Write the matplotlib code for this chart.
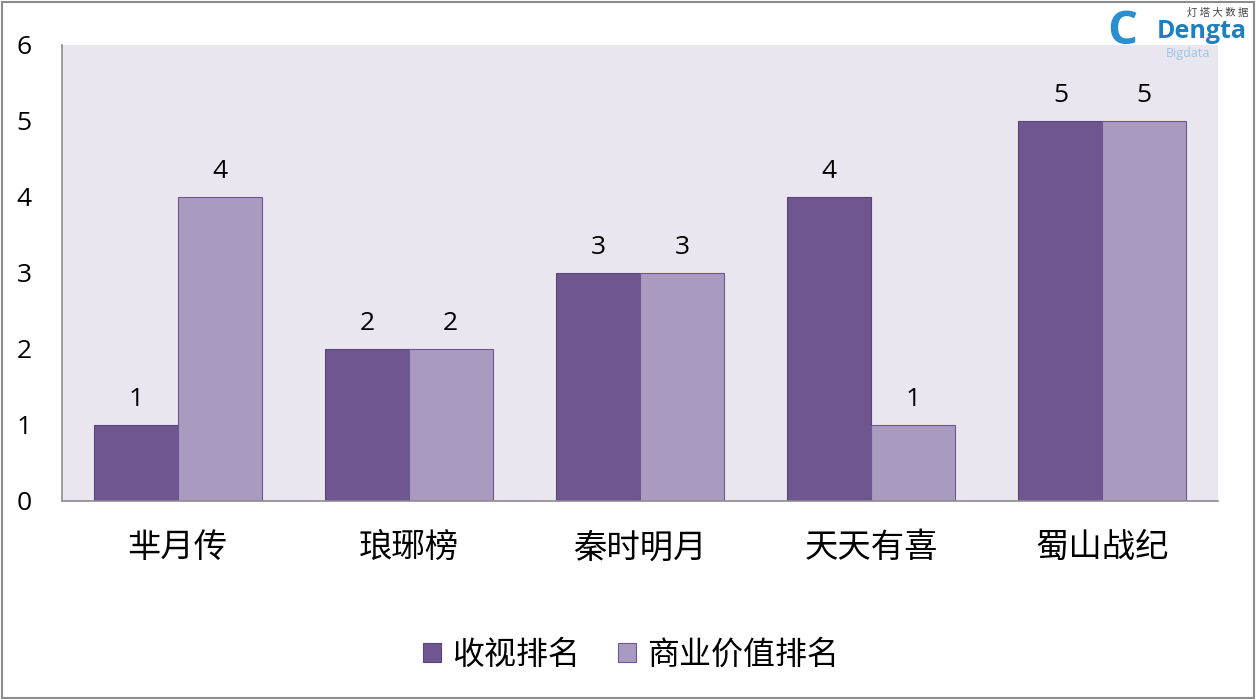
import matplotlib
matplotlib.use("Agg")
import matplotlib.pyplot as plt
import numpy as np
from matplotlib.patches import Rectangle

plt.rcParams['font.family'] = ['Open Sans', 'Noto Sans CJK SC', 'DejaVu Sans']

categories = ['芈月传', '琅琊榜', '秦时明月', '天天有喜', '蜀山战纪']
series_names = ['收视排名', '商业价值排名']
ratings_rank = [1, 2, 3, 4, 5]
commercial_rank = [4, 2, 3, 1, 5]
yticks = [0, 1, 2, 3, 4, 5, 6]

dark = '#6F5691'
light = '#A99BC0'
cjk = ['Noto Sans CJK SC', 'DejaVu Sans']

fig = plt.figure(figsize=(12.56, 7.0), dpi=100)
fig.patch.set_facecolor('white')
ax = fig.add_axes([62/1256, 1-501/700, (1218-62)/1256, (501-45)/700])
ax.set_facecolor('#E9E6EF')

x = np.arange(len(categories))
w = 0.363
b1 = ax.bar(x - w/2, ratings_rank, w, color=dark, edgecolor='#5A4478', linewidth=0.8, label=series_names[0])
b2 = ax.bar(x + w/2, commercial_rank, w, color=light, edgecolor='#6F5691', linewidth=0.8, label=series_names[1])

for bars in (b1, b2):
    for r in bars:
        ax.text(r.get_x() + r.get_width()/2, r.get_height() + 0.17, f"{int(r.get_height())}",
                ha='center', va='bottom', fontsize=19, color='black')

ax.set_xlim(-0.5, len(categories) - 0.5)
ax.set_ylim(0, 6)
ax.set_yticks(yticks)
ax.set_yticklabels([str(t) for t in yticks], fontsize=19)
ax.set_xticks(x)
ax.set_xticklabels(categories, fontsize=24, family=cjk, fontweight='light')
ax.tick_params(axis='both', length=0)
ax.tick_params(axis='y', pad=22)
ax.tick_params(axis='x', pad=21)
for s in ['top', 'right']:
    ax.spines[s].set_visible(False)
for s in ['left', 'bottom']:
    ax.spines[s].set_color('#8C8C8C')
    ax.spines[s].set_linewidth(1.2)

leg = fig.legend(handles=[b1, b2], labels=series_names, loc='center', bbox_to_anchor=(631/1256, 1-655/700),
                 ncol=2, frameon=False, prop={'family': cjk, 'size': 23, 'weight': 'light'},
                 handlelength=0.55, handleheight=0.55, handletextpad=0.35, columnspacing=1.2)

# outer frame
fig.add_artist(Rectangle((2/1256, 2/700), 1252/1256, 696/700, transform=fig.transFigure,
                         fill=False, edgecolor='#8C8C8C', linewidth=1.5))

# logo text
fig.text(1248/1256, 1-13/700, '灯 塔 大 数 据', ha='right', va='center', fontsize=7.5,
         color='#444444', family=cjk)
fig.text(1247/1256, 1-32/700, 'Dengta', ha='right', va='center', fontsize=18, color='#1E7FC1', fontweight='bold')
fig.text(1210/1256, 1-54/700, 'Bigdata', ha='right', va='center', fontsize=9, color='#9CC6E6')
fig.text(1122/1256, 1-32/700, 'C', ha='center', va='center', fontsize=34, color='#2A8ED0', fontweight='bold')

fig.savefig('out.png', dpi=100)
